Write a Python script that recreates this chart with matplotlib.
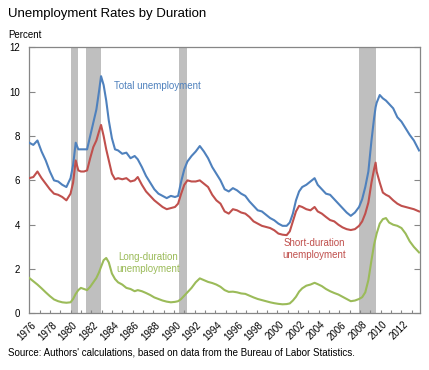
import matplotlib
matplotlib.use("Agg")
import matplotlib.pyplot as plt

plt.rcParams['font.family'] = ['Liberation Sans', 'DejaVu Sans']

# data (percent of labor force)
years = [1976.0, 1976.4, 1976.8, 1977.2, 1977.6, 1978.0, 1978.4, 1978.8, 1979.2, 1979.6,
         1980.0, 1980.25, 1980.5, 1980.75, 1981.0, 1981.3, 1981.6, 1981.9, 1982.2, 1982.5,
         1982.75, 1982.95, 1983.2, 1983.45, 1983.7, 1984.0, 1984.3, 1984.6, 1985.0, 1985.4,
         1985.8, 1986.2, 1986.5, 1986.9, 1987.3, 1987.7, 1988.1, 1988.5, 1988.9, 1989.3,
         1989.7, 1990.1, 1990.4, 1990.7, 1991.0, 1991.3, 1991.7, 1992.1, 1992.5, 1992.9,
         1993.3, 1993.7, 1994.1, 1994.5, 1994.9, 1995.3, 1995.7, 1996.1, 1996.5, 1996.9,
         1997.3, 1997.7, 1998.1, 1998.5, 1998.9, 1999.3, 1999.7, 2000.1, 2000.5, 2000.9,
         2001.2, 2001.5, 2001.8, 2002.1, 2002.4, 2002.8, 2003.2, 2003.6, 2003.9, 2004.3,
         2004.7, 2005.1, 2005.5, 2005.9, 2006.3, 2006.7, 2007.1, 2007.5, 2007.9, 2008.2,
         2008.5, 2008.8, 2009.1, 2009.35, 2009.5, 2009.6, 2009.9, 2010.2, 2010.5, 2010.8,
         2011.2, 2011.6, 2012.0, 2012.4, 2012.8, 2013.2, 2013.7]

total = [7.7, 7.6, 7.8, 7.3, 6.9, 6.4, 6.0, 5.95, 5.8, 5.7,
         6.1, 6.7, 7.7, 7.4, 7.4, 7.4, 7.4, 8.0, 8.6, 9.2,
         10.0, 10.7, 10.3, 9.6, 8.7, 7.9, 7.4, 7.35, 7.2, 7.25,
         7.0, 7.1, 6.95, 6.6, 6.2, 5.9, 5.6, 5.4, 5.3, 5.2,
         5.3, 5.25, 5.3, 5.95, 6.5, 6.85, 7.1, 7.3, 7.55, 7.3,
         7.0, 6.6, 6.3, 6.0, 5.6, 5.5, 5.65, 5.55, 5.4, 5.3,
         5.05, 4.85, 4.65, 4.6, 4.45, 4.3, 4.2, 4.05, 3.95, 3.95,
         4.1, 4.5, 5.1, 5.5, 5.7, 5.8, 5.95, 6.1, 5.8, 5.6,
         5.4, 5.35, 5.15, 4.95, 4.75, 4.55, 4.4, 4.55, 4.8, 5.15,
         5.7, 6.4, 7.8, 8.8, 9.3, 9.5, 9.85, 9.7, 9.6, 9.45,
         9.25, 8.85, 8.65, 8.35, 8.05, 7.8, 7.35]

short = [6.1, 6.15, 6.4, 6.1, 5.85, 5.6, 5.4, 5.35, 5.25, 5.1,
         5.4, 5.9, 6.9, 6.45, 6.4, 6.4, 6.45, 7.0, 7.5, 7.8,
         8.2, 8.5, 8.0, 7.4, 6.9, 6.3, 6.05, 6.1, 6.05, 6.1,
         5.95, 6.0, 6.15, 5.8, 5.5, 5.3, 5.1, 4.95, 4.8, 4.7,
         4.75, 4.8, 4.95, 5.4, 5.8, 6.0, 5.95, 5.95, 6.0, 5.85,
         5.7, 5.35, 5.1, 4.95, 4.6, 4.5, 4.7, 4.65, 4.55, 4.5,
         4.35, 4.15, 4.05, 3.95, 3.9, 3.85, 3.75, 3.6, 3.55, 3.53,
         3.7, 4.15, 4.6, 4.85, 4.8, 4.7, 4.65, 4.8, 4.6, 4.5,
         4.35, 4.21, 4.15, 4.0, 3.88, 3.8, 3.76, 3.8, 3.95, 4.15,
         4.5, 5.0, 5.9, 6.5, 6.8, 6.4, 5.9, 5.45, 5.35, 5.28,
         5.1, 4.95, 4.85, 4.8, 4.75, 4.7, 4.6]

long = [1.6, 1.45, 1.3, 1.13, 0.95, 0.78, 0.63, 0.55, 0.5, 0.48,
        0.5, 0.65, 0.88, 1.05, 1.15, 1.1, 1.05, 1.2, 1.4, 1.6,
        1.85, 2.1, 2.4, 2.5, 2.3, 1.8, 1.55, 1.4, 1.3, 1.15,
        1.1, 1.0, 1.05, 1.0, 0.92, 0.83, 0.72, 0.65, 0.58, 0.53,
        0.5, 0.52, 0.55, 0.65, 0.8, 0.95, 1.15, 1.4, 1.58, 1.5,
        1.42, 1.37, 1.3, 1.2, 1.05, 0.97, 0.98, 0.95, 0.9, 0.88,
        0.8, 0.72, 0.65, 0.6, 0.55, 0.5, 0.46, 0.43, 0.41, 0.42,
        0.45, 0.58, 0.75, 0.98, 1.13, 1.25, 1.3, 1.38, 1.32, 1.23,
        1.1, 1.0, 0.92, 0.85, 0.75, 0.65, 0.55, 0.58, 0.65, 0.73,
        0.95, 1.5, 2.4, 3.1, 3.4, 3.6, 4.05, 4.25, 4.3, 4.1,
        4.0, 3.95, 3.85, 3.6, 3.25, 3.0, 2.75]

recessions = [(1980.0, 1980.75), (1981.5, 1982.9), (1990.5, 1991.25), (2007.92, 2009.5)]

label_years = list(range(1976, 2013, 2))

blue = '#4f81bd'
red = '#c0504d'
green = '#9bbb59'
grey = '#868686'

fig = plt.figure(figsize=(4.29, 3.70), dpi=100)
ax = fig.add_axes([0.068, 0.153, 0.910, 0.719])

for start, end in recessions:
    ax.axvspan(start, end, color='#bfbfbf', lw=0, zorder=0)

ax.plot(years, total, color=blue, lw=1.5, zorder=3)
ax.plot(years, short, color=red, lw=1.5, zorder=3)
ax.plot(years, long, color=green, lw=1.5, zorder=3)

ax.text(1984.2, 10.25, 'Total unemployment', color=blue, fontsize=7, va='center')
ax.text(1987.5, 2.27, 'Long-duration\nunemployment', color=green, fontsize=7,
        ha='center', va='center', linespacing=1.25)
ax.text(2003.55, 2.9, 'Short-duration\nunemployment', color=red, fontsize=7,
        ha='center', va='center', linespacing=1.25)

ax.set_xlim(1976, 2013.75)
ax.set_ylim(0, 12)
ax.set_yticks(range(0, 13, 2))
ax.tick_params(axis='y', which='major', direction='in', length=4, width=0.8,
               color=grey, labelsize=7, pad=6.5, right=True)

ax.set_xticks([y + 0.85 for y in label_years])
ax.set_xticklabels([str(y) for y in label_years], rotation=45, ha='right', va='top')
ax.set_xticks(range(1977, 2014), minor=True)
ax.tick_params(axis='x', which='major', length=0, labelsize=7, pad=4.5)
ax.tick_params(axis='x', which='minor', direction='in', length=2.5, width=0.8, color=grey)

for side in ['left', 'right', 'top', 'bottom']:
    ax.spines[side].set_color(grey)
    ax.spines[side].set_linewidth(0.9)

fig.text(0.0186, 0.953, 'Unemployment Rates by Duration', fontsize=9.5, va='baseline')
fig.text(0.0186, 0.8965, 'Percent', fontsize=7, va='baseline')
fig.text(0.0186, 0.0405, "Source: Authors' calculations, based on data from the Bureau of Labor Statistics.",
         fontsize=7, va='baseline')

fig.savefig('out.png', dpi=100)
